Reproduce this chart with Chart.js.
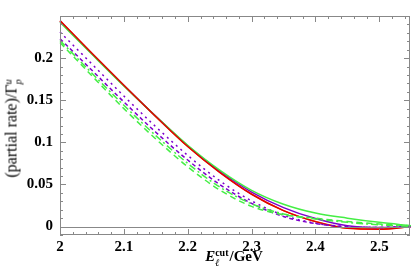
<!DOCTYPE html>
<html>
<head>
<meta charset="utf-8">
<script src="https://cdn.jsdelivr.net/npm/chart.js@4.4.1/dist/chart.umd.min.js"></script>
<style>
html,body{margin:0;padding:0;background:#fff;}
#wrap{position:relative;width:411px;height:269px;}
canvas{position:absolute;left:0;top:0;}
.t{position:absolute;font-family:"Liberation Serif","DejaVu Serif",serif;color:#000;white-space:nowrap;line-height:16px;}
#xt{left:234px;top:258px;transform:translate(-50%,-50%);font-size:15px;font-weight:bold;}
#yt{left:13px;top:128px;transform:translate(-50%,-50%) rotate(-90deg);font-size:16px;font-weight:normal;}
.ss{display:inline-block;vertical-align:middle;line-height:0.95;font-size:10px;text-align:left;margin-right:1px;}
.ss span{display:block;}
i{font-style:italic;}
</style>
</head>
<body>
<div id="wrap">
<canvas id="c" width="411" height="269"></canvas>
<div class="t" id="xt"><i>E</i><span class="ss"><span>cut</span><span><i>ℓ</i></span></span>/GeV</div>
<div class="t" id="yt">(partial rate)/Γ<span class="ss"><span><i>u</i></span><span><i>p</i></span></span></div>
</div>
<script>
const energies = [2.00, 2.05, 2.10, 2.15, 2.20, 2.25, 2.30, 2.35, 2.40, 2.45, 2.50, 2.55];
const redSolid     = [0.2445, 0.2058, 0.1678, 0.1307, 0.0951, 0.0644, 0.0384, 0.0189, 0.0059, -0.0021, -0.0031, 0.0000];
const orangeSolid  = [0.2440, 0.2055, 0.1675, 0.1305, 0.0950, 0.0645, 0.0385, 0.0190, 0.0060, -0.0020, -0.0030, 0.0000];
const purpleSolid  = [0.2435, 0.2052, 0.1675, 0.1310, 0.0960, 0.0660, 0.0410, 0.0225, 0.0095, 0.0010, -0.0012, 0.0000];
const greenSolid   = [0.2425, 0.2045, 0.1670, 0.1310, 0.0965, 0.0670, 0.0430, 0.0265, 0.0160, 0.0100, 0.0050, 0.0010];
const purpleDotted = [0.2310, 0.1930, 0.1550, 0.1185, 0.0845, 0.0545, 0.0305, 0.0135, 0.0040, 0.0000, -0.0010, 0.0000];
const purpleDashed = [0.2230, 0.1855, 0.1480, 0.1120, 0.0790, 0.0500, 0.0275, 0.0120, 0.0035, -0.0002, -0.0010, 0.0000];
const greenDashDot = [0.2210, 0.1820, 0.1440, 0.1080, 0.0750, 0.0470, 0.0270, 0.0150, 0.0090, 0.0050, 0.0020, 0.0003];
const greenDashed  = [0.2185, 0.1790, 0.1400, 0.1040, 0.0710, 0.0435, 0.0240, 0.0140, 0.0100, 0.0060, 0.0030, 0.0010];
const xTicks = [2.0, 2.1, 2.2, 2.3, 2.4, 2.5];
const yTicks = [0, 0.05, 0.1, 0.15, 0.2];
const xMinorStep = 0.02, yMinorStep = 0.01;
const xMin = 2.0, xMax = 2.548, yMin = -0.01, yMax = 0.25;

function pts(ys){ return energies.map((e,i)=>({x:e,y:ys[i]})); }
function ds(data,color,dash){
  return {data:pts(data),borderColor:color,borderWidth:1.5,borderDash:dash,pointRadius:0,
          fill:false,cubicInterpolationMode:'monotone',clip:false};
}
const RED='#e00000', ORANGE='#ff6400', PURPLE='#7c00cc', GREEN='#44ee44';

const framePlugin = {
  id:'frame',
  afterDatasetsDraw(chart){
    const {ctx, chartArea:a, scales:{x,y}} = chart;
    ctx.save();
    ctx.strokeStyle='#888';
    ctx.lineWidth=1;
    const y0 = Math.round(y.getPixelForValue(0))+0.5;
    ctx.beginPath(); ctx.moveTo(a.left,y0); ctx.lineTo(a.right,y0); ctx.stroke();
    ctx.strokeRect(Math.round(a.left)+0.5, Math.round(a.top)+0.5, Math.round(a.right-a.left)-1, Math.round(a.bottom-a.top)-1);
    ctx.beginPath();
    for(let v=xMin; v<=xMax+1e-9; v+=xMinorStep){
      const major = xTicks.some(t=>Math.abs(t-v)<1e-6);
      const L = major?6:3;
      const px = Math.round(x.getPixelForValue(v))+0.5;
      ctx.moveTo(px,a.bottom); ctx.lineTo(px,a.bottom-L);
      ctx.moveTo(px,a.top); ctx.lineTo(px,a.top+L);
    }
    for(let v=yMin; v<=yMax+1e-9; v+=yMinorStep){
      const major = yTicks.some(t=>Math.abs(t-v)<1e-6);
      const L = major?6:3;
      const py = Math.round(y.getPixelForValue(v))+0.5;
      ctx.moveTo(a.left,py); ctx.lineTo(a.left+L,py);
      ctx.moveTo(a.right,py); ctx.lineTo(a.right-L,py);
    }
    ctx.stroke();
    ctx.restore();
  }
};

const tickFont = {family:'"Liberation Serif","DejaVu Serif",serif', size:15, weight:'bold'};

new Chart(document.getElementById('c'), {
  type:'line',
  data:{datasets:[
    ds(greenDashed, GREEN, [6,4]),
    ds(greenDashDot, GREEN, [7,3,2,3]),
    ds(purpleDashed, PURPLE, [4,3]),
    ds(purpleDotted, PURPLE, [2,4]),
    ds(redSolid, RED, []),
    ds(greenSolid, GREEN, []),
    ds(purpleSolid, PURPLE, []),
    ds(orangeSolid, ORANGE, []),
  ]},
  options:{
    responsive:false, animation:false, events:[],
    layout:{padding:{top:0,right:1,left:0,bottom:0}},
    plugins:{legend:{display:false},tooltip:{enabled:false}},
    scales:{
      x:{type:'linear',min:xMin,max:xMax,
        grid:{display:false,drawTicks:false},border:{display:false},
        afterBuildTicks(s){ s.ticks = xTicks.map(v=>({value:v})); },
        afterFit(s){ s.height = 34; },
        ticks:{font:tickFont,color:'#000',padding:3,maxRotation:0,
          callback:(v)=>String(+v.toFixed(2))}},
      y:{type:'linear',min:yMin,max:yMax,
        grid:{display:false,drawTicks:false},border:{display:false},
        afterBuildTicks(s){ s.ticks = yTicks.map(v=>({value:v})); },
        afterFit(s){ s.width = 60; },
        ticks:{font:tickFont,color:'#000',padding:7,
          callback:(v)=>String(+v.toFixed(2))}}
    }
  },
  plugins:[framePlugin]
});
</script>
</body>
</html>
